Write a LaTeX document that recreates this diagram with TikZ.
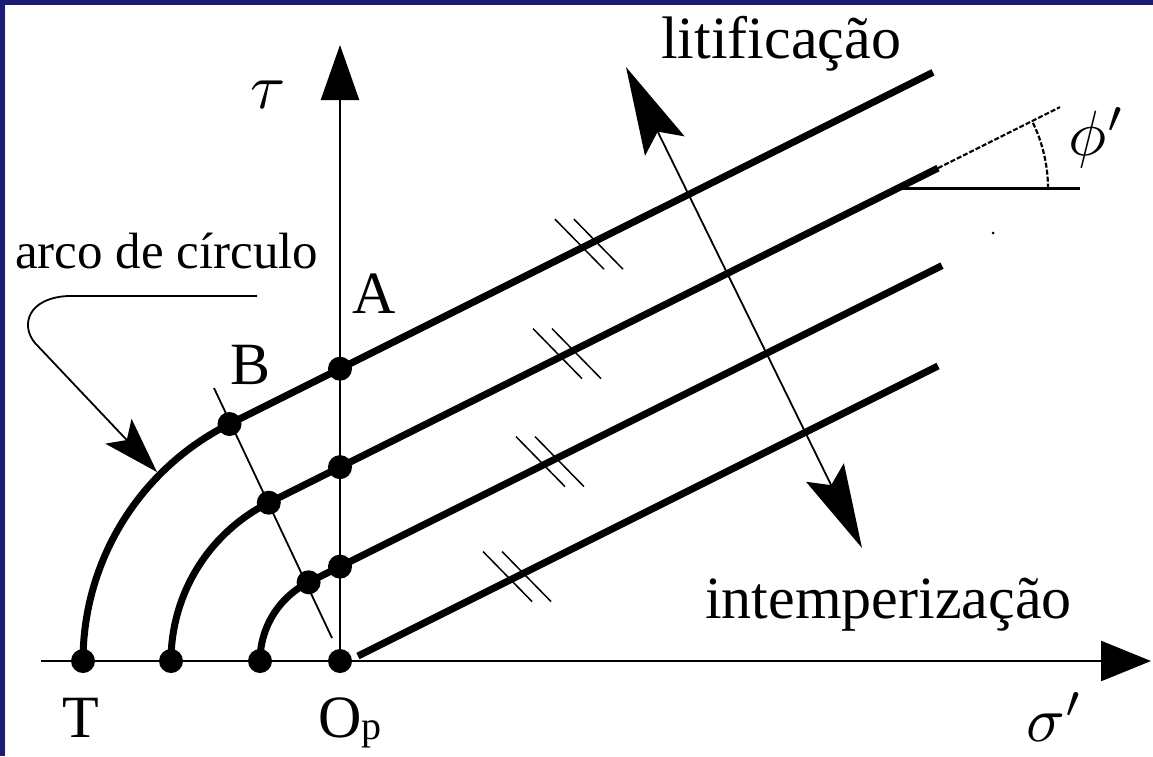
\documentclass[tikz,border=0pt]{standalone}
\usepackage{fontspec}
\setmainfont{Liberation Serif}
\usetikzlibrary{arrows.meta,calc}
\definecolor{frameblue}{RGB}{27,27,120}
\newcommand\hashpair[1]{%
  \draw[tickline] ($(#1)+(-34,-25)$) -- ($(#1)+(15,25)$);
  \draw[tickline] ($(#1)+(-15,-25)$) -- ($(#1)+(34,25)$);}
\begin{document}
\begin{tikzpicture}[x=1pt,y=-1pt,
  thickline/.style={line width=7pt},
  axisline/.style={line width=2.5pt},
  thinline/.style={line width=1.8pt},
  tickline/.style={line width=1.5pt},
  dashline/.style={line width=2.2pt,dash pattern=on 5pt off 2pt},
  dot/.style={circle,fill=black,inner sep=0pt,minimum size=24pt},
  lbl/.style={inner sep=0pt,font=\fontsize{60}{66}\selectfont},
  smalllbl/.style={inner sep=0pt,font=\fontsize{51}{56}\selectfont},
  mathlbl/.style={inner sep=0pt,font=\fontsize{10}{12}\selectfont,scale=6.4}
]
% frame
\fill[frameblue] (0,0) rectangle (1153,756);
\fill[white] (5,5) rectangle (1153,756);
\useasboundingbox (0,0) rectangle (1153,756);

% coordinates
\coordinate (C) at (348,661);
\coordinate (Op) at (340,661);
\coordinate (T1) at (83,661);
\coordinate (T2) at (171,661);
\coordinate (T3) at (260,661);
\coordinate (B1) at (229.5,424.0);
\coordinate (B2) at (268.8,502.7);
\coordinate (B3) at (308.6,582.3);
\coordinate (A1) at (340,368.7);
\coordinate (A2) at (340,467.1);
\coordinate (A3) at (340,566.6);
\coordinate (E1) at (933,72.3);
\coordinate (E2) at (938,168.1);
\coordinate (E2x) at (1060,107.1);
\coordinate (E3) at (942,265.6);
\coordinate (F4s) at (358,656);
\coordinate (F4e) at (938,366);
\coordinate (V) at (897,188.6);
\coordinate (H) at (1080,188.6);
\coordinate (Xs) at (41,661);
\coordinate (Xe) at (1151,661);
\coordinate (Ye) at (340,45);
\coordinate (N1) at (332,638);
\coordinate (N2) at (214,388);
\coordinate (L1) at (626,67);
\coordinate (L2) at (862,548);
\coordinate (P0) at (257,296);
\coordinate (P1) at (68,296);
\coordinate (P2) at (35,343);
\coordinate (Ptip) at (157,472);
\coordinate (S1) at (589,244.2);
\coordinate (S2) at (567,353.6);
\coordinate (S3) at (550,461.6);
\coordinate (S4) at (517,576.5);

% axes
\draw[axisline,-{Triangle[length=50pt,width=40pt]}] (Xs) -- (Xe);
\draw[axisline,-{Triangle[length=55pt,width=38pt]}] (Op) -- (Ye);

% normal line through tangent points
\draw[thinline] (N1) -- (N2);

% envelopes: arcs + straight lines
\draw[thickline] (T1) arc[start angle=180,end angle=243.43,radius=265] -- (E1);
\draw[thickline] (T2) arc[start angle=180,end angle=243.43,radius=177] -- (E2);
\draw[thickline] (T3) arc[start angle=180,end angle=243.43,radius=88] -- (E3);
\draw[thickline] (F4s) -- (F4e);

% angle phi'
\draw[dashline] (E2) -- (E2x);
\draw[axisline] (V) -- (H);
\draw[dashline] ($(V)+(151,0)$) arc[start angle=0,end angle=-26.57,radius=151];
\fill (993,233) circle (1.5pt);

% parallel marks
\hashpair{S1}
\hashpair{S2}
\hashpair{S3}
\hashpair{S4}

% double arrow
\draw[thinline,{Stealth[length=88pt,width=44pt,inset=16pt]}-{Stealth[length=84pt,width=42pt,inset=14pt]}] (L1) -- (L2);

% pointer
\draw[thinline,-{Stealth[length=56pt,width=36pt,inset=12pt]}] (P0) -- (P1) .. controls (28,298) and (20,325) .. (P2) -- (Ptip);

% dots
\foreach \p in {T1,T2,T3,Op,A1,A2,A3,B1,B2,B3}
  \node[dot] (d\p) at (\p) {};

% labels
\node[mathlbl] (tau) at (268,95) {$\tau$};
\node[mathlbl] (phi) at (1097,138) {$\phi'$};
\node[mathlbl] (sigma) at (1055,717) {$\sigma'$};
\node[lbl,anchor=base west] (lA) at (352,313) {A};
\node[lbl,anchor=base west] (lB) at (230,384) {B};
\node[lbl,anchor=base west] (lT) at (62,737) {T};
\node[lbl,anchor=base west] (lOp) at (318,737) {O\raisebox{-2pt}{\fontsize{40}{42}\selectfont p}};
\node[smalllbl,anchor=base west] (arco) at (15,268) {arco de círculo};
\node[lbl,anchor=base west] (lit) at (661,58) {litificação};
\node[lbl,anchor=base west] (intem) at (705,618) {intemperização};
\end{tikzpicture}
\end{document}
